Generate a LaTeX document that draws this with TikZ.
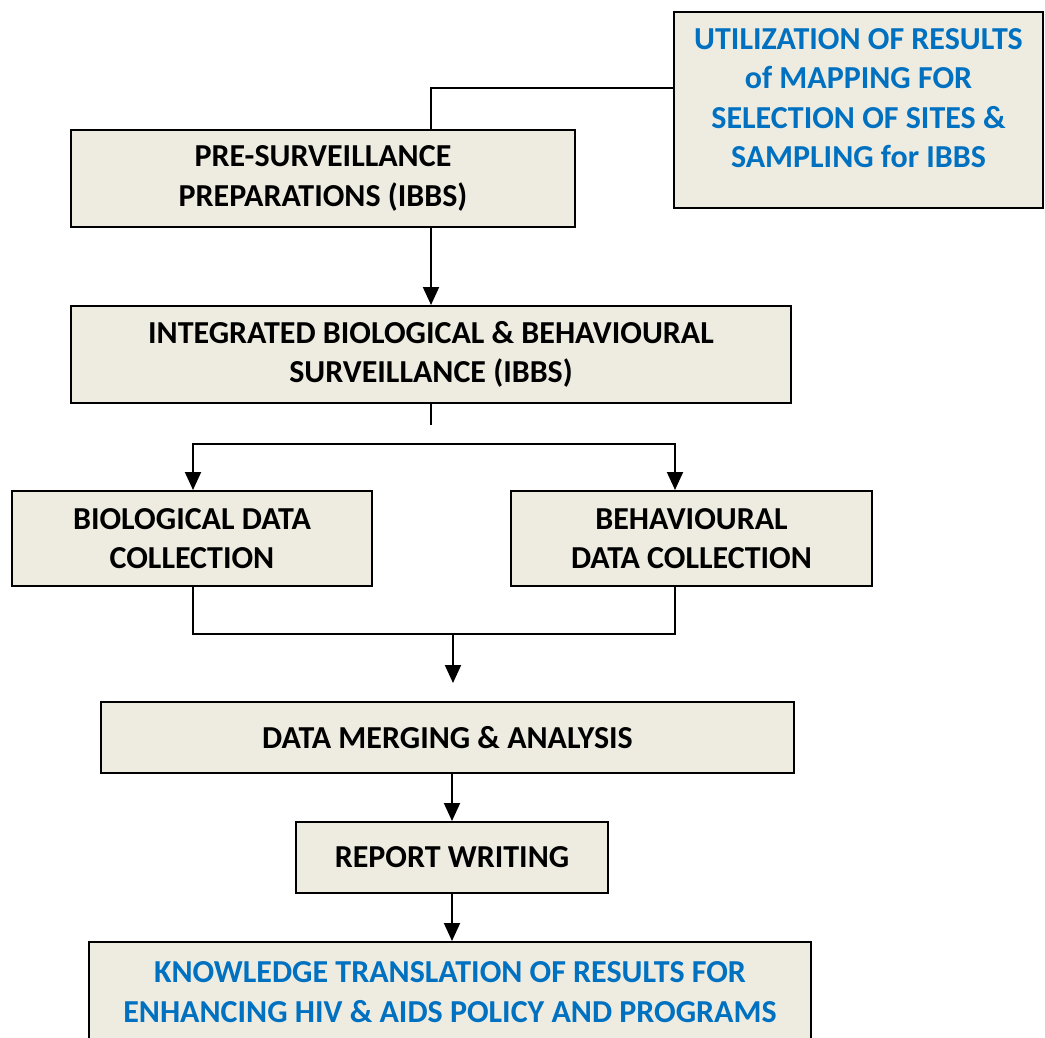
\documentclass[tikz,border=0pt]{standalone}
\usepackage{fontspec}
\setmainfont{Carlito}
\usepackage{xcolor}
\definecolor{tan100}{HTML}{EEECE1}
\definecolor{blue700}{HTML}{0070C0}
\usetikzlibrary{arrows.meta, positioning, calc}

\begin{document}
\begin{tikzpicture}[
    x=1pt, y=-1pt,
    font=\fontsize{32}{39.5}\selectfont\bfseries,
    >={Triangle[width=16pt, length=18pt]},
    box/.style={draw=black, fill=tan100, line width=2pt, align=center, inner sep=0pt},
    bluebox/.style={box, text=blue700},
    link/.style={draw=black, line width=2pt},
]
\useasboundingbox (0,0) rectangle (1045,1038);

% ── Mapping input ──
\node[bluebox, minimum width=369pt, minimum height=196pt, text depth=24pt] (util) at (858.5,110)
    {UTILIZATION OF RESULTS\\of MAPPING FOR\\SELECTION OF SITES \&\\SAMPLING for IBBS};

% ── Main column ──
\node[box, minimum width=504pt, minimum height=97pt] (pre) at (323,178.5)
    {PRE-SURVEILLANCE\\PREPARATIONS (IBBS)};
\node[box, minimum width=720pt, minimum height=97pt] (ibbs) at (431,354.5)
    {INTEGRATED BIOLOGICAL \& BEHAVIOURAL\\SURVEILLANCE (IBBS)};

% ── Two data streams ──
\node[box, minimum width=360pt, minimum height=95pt] (bio) at (192,538.5)
    {BIOLOGICAL DATA\\COLLECTION};
\node[box, minimum width=361pt, minimum height=95pt] (beh) at (691.5,538.5)
    {BEHAVIOURAL\\DATA COLLECTION};

% ── Analysis and output ──
\node[box, minimum width=693pt, minimum height=71pt] (merge) at (447.5,737.5)
    {DATA MERGING \& ANALYSIS};
\node[box, minimum width=312pt, minimum height=71pt] (report) at (452,857.5)
    {REPORT WRITING};
\node[bluebox, minimum width=722pt, minimum height=100pt] (know) at (450,992)
    {KNOWLEDGE TRANSLATION OF RESULTS FOR\\ENHANCING HIV \& AIDS POLICY AND PROGRAMS};

% ── Connectors ──
\coordinate (utilbend) at (431,88);
\coordinate (stub) at (431,425);
\coordinate (lsplit) at (193,444);
\coordinate (rsplit) at (675,444);
\coordinate (join) at (453,634);
\coordinate (mergein) at (453,683);

\draw[link] (utilbend -| util.west) -- (utilbend) -- (utilbend |- pre.north);
\draw[link, ->] (ibbs.north |- pre.south) -- (ibbs.north);
\draw[link] (ibbs.south) -- (stub);
\draw[link, <->] (lsplit |- bio.north) -- (lsplit) -- (rsplit) -- (rsplit |- beh.north);
\draw[link] (lsplit |- bio.south) -- (lsplit |- join) -- (rsplit |- join) -- (rsplit |- beh.south);
\draw[link, ->] (join) -- (mergein);
\draw[link, ->] (merge.south -| report.north) -- (report.north);
\draw[link, ->] (report.south) -- (report.south |- know.north);
\end{tikzpicture}
\end{document}
